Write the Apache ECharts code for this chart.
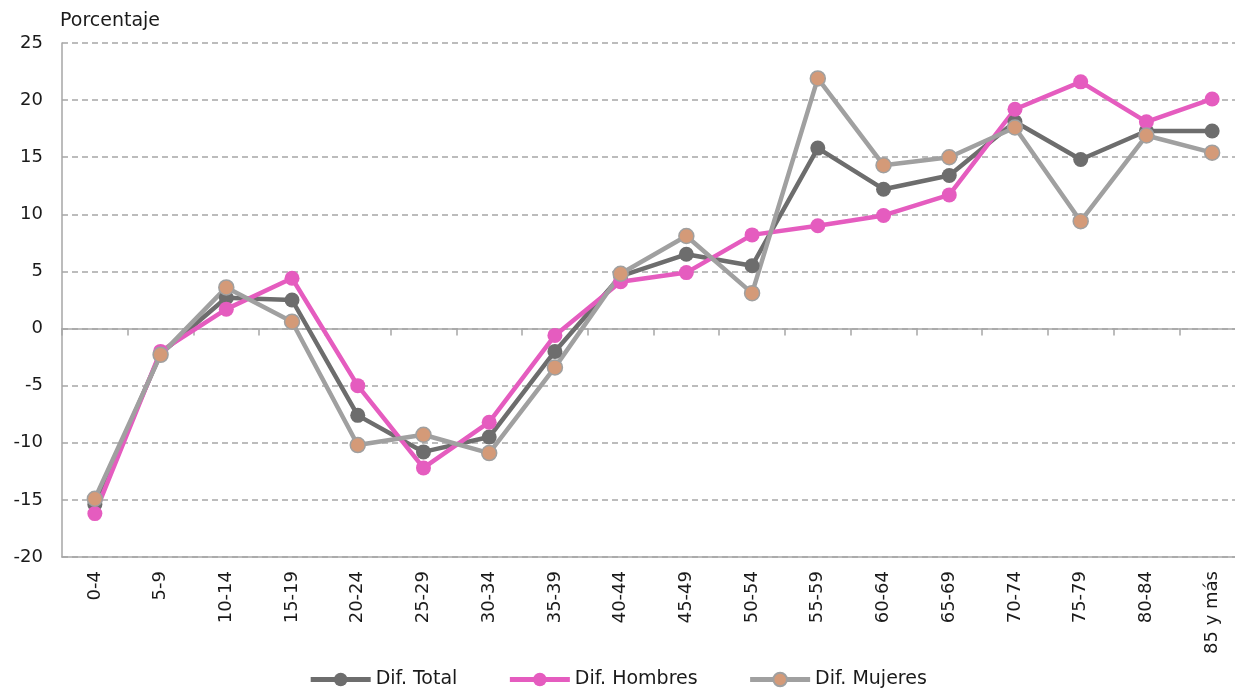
<!DOCTYPE html>
<html>
<head>
<meta charset="utf-8">
<script src="https://cdn.jsdelivr.net/npm/echarts@6/dist/echarts.min.js"></script>
<style>
  html, body { margin: 0; padding: 0; background: #fff; }
  #chart { width: 1235px; height: 694px; }
</style>
</head>
<body>
<div id="chart"></div>
<script>
const ageGroups = ['0-4', '5-9', '10-14', '15-19', '20-24', '25-29', '30-34', '35-39', '40-44',
    '45-49', '50-54', '55-59', '60-64', '65-69', '70-74', '75-79', '80-84', '85 y más'];
const difTotal = [-15.4, -2.2, 2.7, 2.5, -7.6, -10.8, -9.5, -2.0, 4.6, 6.5, 5.5, 15.8, 12.2, 13.4, 18.1, 14.8, 17.3, 17.3];
const difHombres = [-16.2, -2.0, 1.7, 4.4, -5.0, -12.2, -8.2, -0.6, 4.1, 4.9, 8.2, 9.0, 9.9, 11.7, 19.2, 21.6, 18.1, 20.1];
const difMujeres = [-14.9, -2.3, 3.6, 0.6, -10.2, -9.3, -10.9, -3.4, 4.8, 8.1, 3.1, 21.9, 14.3, 15.0, 17.6, 9.4, 16.9, 15.4];

const font = 'DejaVu Sans';
const axisGray = '#a6a6a6';

const myChart = echarts.init(document.getElementById('chart'));

const option = {
    animation: false,
    textStyle: { fontFamily: font, color: '#1a1a1a' },
    grid: { left: 62, right: -10, top: 43, bottom: 137, containLabel: false, outerBoundsMode: 'none' },
    legend: {
        top: 665,
        left: 'center',
        itemWidth: 60,
        itemHeight: 17,
        itemGap: 50,
        lineStyle: { width: 5 },
        textStyle: { fontSize: 19, color: '#1a1a1a', fontFamily: font }
    },
    xAxis: [{
        type: 'category',
        data: ageGroups,
        boundaryGap: true,
        axisLine: { onZero: true, lineStyle: { color: axisGray, width: 1.5 } },
        axisTick: { show: true, interval: 0, length: 7, lineStyle: { color: axisGray, width: 1.5 } },
        axisLabel: { show: false, interval: 0 }
    }, {
        type: 'category',
        data: ageGroups,
        position: 'bottom',
        boundaryGap: true,
        axisLine: { onZero: false, lineStyle: { color: axisGray, width: 1.5 } },
        axisTick: { show: false },
        axisLabel: { rotate: 90, interval: 0, fontSize: 18, color: '#1a1a1a', margin: 14, fontFamily: font }
    }],
    yAxis: {
        type: 'value',
        min: -20,
        max: 25,
        interval: 5,
        name: 'Porcentaje',
        nameLocation: 'end',
        nameGap: 12,
        nameTextStyle: { fontSize: 19, color: '#1a1a1a', align: 'left', padding: [0, 0, 0, -2] },
        axisLine: { show: true, lineStyle: { color: axisGray, width: 1.5 } },
        axisTick: { show: false },
        axisLabel: { fontSize: 18, color: '#1a1a1a', margin: 19 },
        splitLine: { show: true, lineStyle: { color: axisGray, type: [6, 4], width: 1.5 } }
    },
    series: [{
        name: 'Dif. Total',
        type: 'line',
        data: difTotal,
        symbol: 'circle',
        symbolSize: 15,
        lineStyle: { color: '#6d6d6d', width: 4.5 },
        itemStyle: { color: '#6d6d6d' }
    }, {
        name: 'Dif. Hombres',
        type: 'line',
        data: difHombres,
        symbol: 'circle',
        symbolSize: 15,
        lineStyle: { color: '#e55cbf', width: 4.5 },
        itemStyle: { color: '#e55cbf' }
    }, {
        name: 'Dif. Mujeres',
        type: 'line',
        data: difMujeres,
        symbol: 'circle',
        symbolSize: 15,
        lineStyle: { color: '#a0a0a0', width: 4.5 },
        itemStyle: { color: '#d49a78', borderColor: '#a0a0a0', borderWidth: 1.5 }
    }]
};

myChart.setOption(option);

window.addEventListener('resize', () => {
    myChart.resize();
});
</script>
</body>
</html>
